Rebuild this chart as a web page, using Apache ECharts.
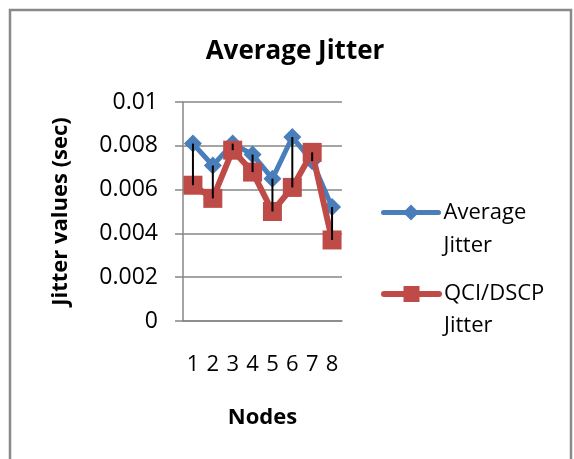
<!DOCTYPE html>
<html>
<head>
<meta charset="utf-8">
<script src="https://cdn.jsdelivr.net/npm/echarts@6/dist/echarts.min.js"></script>
<style>
  html, body { margin: 0; padding: 0; background: #fff; }
  #chart { width: 574px; height: 459px; }
</style>
</head>
<body>
<div id="chart"></div>
<script>
// data
var nodes = ['1', '2', '3', '4', '5', '6', '7', '8']
var averageJitter = [0.0081, 0.0071, 0.0081, 0.0076, 0.0065, 0.0084, 0.0073, 0.0052]
var qciJitter = [0.0062, 0.0056, 0.0078, 0.0068, 0.0050, 0.0061, 0.0077, 0.0037]
var yTicks = [0, 0.002, 0.004, 0.006, 0.008, 0.01]

var font = 'Open Sans'
var grey = '#878787'

// two-line legend text, first line level with the icon (blank line on top keeps it centred)
function legendText(name) {
  return ' \n' + name.replace(' ', '\n')
}

var chart = echarts.init(document.getElementById('chart'))
chart.setOption({
  animation: false,
  textStyle: { fontFamily: font, color: '#000' },
  graphic: [{
    type: 'rect',
    shape: { x: 10, y: 10, width: 561, height: 470 },
    style: { fill: null, stroke: '#898989', lineWidth: 2.5 },
    silent: true
  }],
  title: {
    text: 'Average Jitter',
    left: 290,
    top: 34,
    textAlign: 'center',
    textStyle: { fontFamily: font, fontSize: 26, fontWeight: 'bold', color: '#000' }
  },
  legend: [{
    data: ['Average Jitter'],
    orient: 'vertical',
    left: 381,
    top: 163,
    padding: 0,
    itemWidth: 55,
    itemHeight: 20,
    formatter: legendText,
    lineStyle: { width: 5, cap: 'round' },
    textStyle: { fontFamily: font, fontSize: 22, color: '#000', lineHeight: 33 }
  }, {
    data: ['QCI/DSCP Jitter'],
    orient: 'vertical',
    left: 381,
    top: 246,
    padding: 0,
    itemWidth: 55,
    itemHeight: 20,
    formatter: legendText,
    lineStyle: { width: 6, cap: 'round' },
    textStyle: { fontFamily: font, fontSize: 22, color: '#000', lineHeight: 32 }
  }],
  grid: { left: 183, right: 232, top: 102, bottom: 138 },
  xAxis: {
    type: 'category',
    data: nodes,
    boundaryGap: true,
    name: 'Nodes',
    nameLocation: 'middle',
    nameGap: 86,
    nameMoveOverlap: false,
    nameTextStyle: { fontFamily: font, fontSize: 22, fontWeight: 'bold', color: '#000', verticalAlign: 'top' },
    axisLine: { lineStyle: { color: grey, width: 1.5 } },
    axisTick: { show: false },
    axisLabel: { fontFamily: font, fontSize: 22, color: '#000', margin: 33 }
  },
  yAxis: {
    type: 'value',
    min: yTicks[0],
    max: yTicks[yTicks.length - 1],
    interval: 0.002,
    name: 'Jitter values (sec)',
    nameLocation: 'middle',
    nameGap: 111,
    nameMoveOverlap: false,
    nameTextStyle: { fontFamily: font, fontSize: 22, fontWeight: 'bold', color: '#000' },
    axisLine: { show: true, lineStyle: { color: grey, width: 1.5 } },
    axisTick: { show: true, length: 8, lineStyle: { color: grey, width: 1.5 } },
    splitLine: { lineStyle: { color: grey, width: 1.5 } },
    axisLabel: { fontFamily: font, fontSize: 23, color: '#000', margin: 25 }
  },
  series: [
    {
      name: 'Average Jitter',
      type: 'line',
      data: averageJitter,
      symbol: 'diamond',
      symbolSize: 18,
      itemStyle: { color: '#4A7EBB' },
      lineStyle: { color: '#4A7EBB', width: 5 },
      z: 2
    },
    {
      name: 'QCI/DSCP Jitter',
      type: 'line',
      data: qciJitter,
      symbol: 'rect',
      symbolSize: 19,
      itemStyle: { color: '#BE4B48' },
      lineStyle: { color: '#BE4B48', width: 6 },
      z: 3
    },
    {
      // high-low lines between both series
      name: 'hilo',
      type: 'custom',
      data: nodes.map(function(n, i) { return [i, averageJitter[i], qciJitter[i]] }),
      renderItem: function(params, api) {
        var a = api.coord([api.value(0), api.value(1)])
        var b = api.coord([api.value(0), api.value(2)])
        return {
          type: 'line',
          shape: { x1: a[0], y1: a[1], x2: b[0], y2: b[1] },
          style: { stroke: '#000', lineWidth: 2 }
        }
      },
      z: 5,
      silent: true
    }
  ]
})
</script>
</body>
</html>
